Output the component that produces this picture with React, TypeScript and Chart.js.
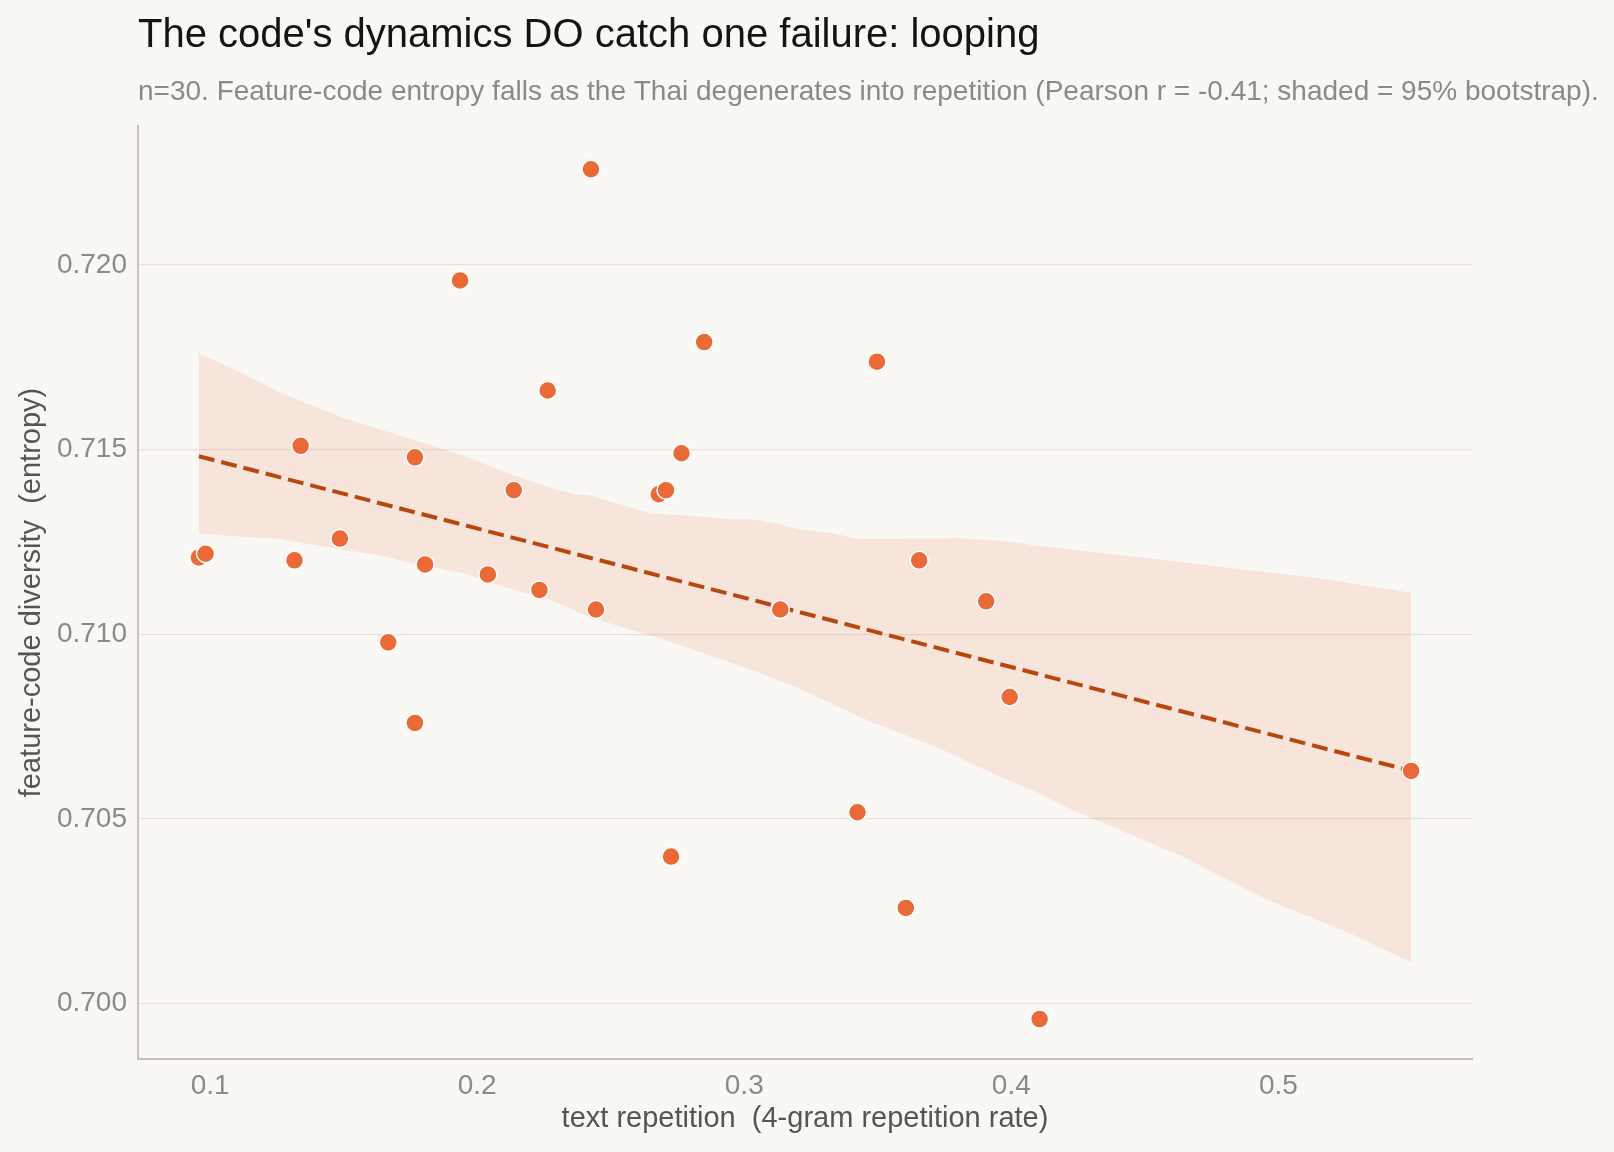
import React, { useEffect, useRef } from "react";
import { Chart, registerables } from "chart.js";

Chart.register(...registerables);

const TITLE = "The code's dynamics DO catch one failure: looping";
const SUBTITLE =
  "n=30. Feature-code entropy falls as the Thai degenerates into repetition (Pearson r = -0.41; shaded = 95% bootstrap).";
const X_TITLE = "text repetition  (4-gram repetition rate)";
const Y_TITLE = "feature-code diversity  (entropy)";

const REPETITION = [
  0.0958, 0.0983, 0.1316, 0.1339, 0.1486, 0.1667, 0.1767, 0.1767, 0.1805, 0.1936,
  0.204, 0.2137, 0.2233, 0.2264, 0.2426, 0.2445, 0.268, 0.2707, 0.2726, 0.2765,
  0.285, 0.3135, 0.3424, 0.3497, 0.3605, 0.3655, 0.3906, 0.3994, 0.4106, 0.5497,
];
const ENTROPY = [
  0.71208, 0.71218, 0.712, 0.7151, 0.71259, 0.70978, 0.7076, 0.71479, 0.71189, 0.71958,
  0.71162, 0.7139, 0.7112, 0.7166, 0.72259, 0.71067, 0.71379, 0.7139, 0.70398, 0.7149,
  0.71791, 0.71067, 0.70518, 0.71738, 0.70259, 0.712, 0.71089, 0.7083, 0.69958, 0.7063,
];

const TREND_X = [0.0958, 0.5497];
const TREND_Y = [0.71482, 0.7063];

const UPPER_X = [
  0.0958, 0.1116, 0.1259, 0.1489, 0.179, 0.1947, 0.2104, 0.2262, 0.2362, 0.242,
  0.2563, 0.2649, 0.2807, 0.2947, 0.3031, 0.3121, 0.3193, 0.3336, 0.3425, 0.3802,
  0.3945, 0.4088, 0.4625, 0.5162, 0.5497,
];
const UPPER_Y = [
  0.71761, 0.71708, 0.71656, 0.71588, 0.7152, 0.71484, 0.71439, 0.71399, 0.71379, 0.71376,
  0.71346, 0.71327, 0.7132, 0.71311, 0.71311, 0.713, 0.71286, 0.71273, 0.71258, 0.7126,
  0.71254, 0.71241, 0.71196, 0.7115, 0.71112,
];
const LOWER_X = [
  0.0958, 0.113, 0.1259, 0.1345, 0.1632, 0.179, 0.1947, 0.2119, 0.2277, 0.242,
  0.2563, 0.2706, 0.2834, 0.3049, 0.3193, 0.3461, 0.373, 0.3838, 0.3958, 0.4107,
  0.4195, 0.4644, 0.4956, 0.5268, 0.5497,
];
const LOWER_Y = [
  0.71273, 0.71263, 0.71259, 0.71247, 0.71214, 0.71187, 0.71166, 0.71124, 0.71092, 0.71047,
  0.71015, 0.70984, 0.70952, 0.70898, 0.70857, 0.70767, 0.70691, 0.70654, 0.70614, 0.70569,
  0.70535, 0.70397, 0.70282, 0.7019, 0.70112,
];

const X_TICKS = [0.1, 0.2, 0.3, 0.4, 0.5];
const X_TICK_LABELS = ["0.1", "0.2", "0.3", "0.4", "0.5"];
const Y_TICKS = [0.7, 0.705, 0.71, 0.715, 0.72];
const Y_TICK_LABELS = ["0.700", "0.705", "0.710", "0.715", "0.720"];

const X_MIN = 0.073;
const X_MAX = 0.5725;
const Y_MIN = 0.6985;
const Y_MAX = 0.72376;

const FONT = '"Liberation Sans", Arial, Helvetica, sans-serif';
const BG = "#faf8f4";

const zip = (xs: number[], ys: number[]) => xs.map((x, i) => ({ x, y: ys[i] }));

const headerPlugin = {
  id: "header",
  afterDraw(chart: any) {
    const ctx = chart.ctx;
    const left = chart.chartArea.left;
    ctx.save();
    ctx.textAlign = "left";
    ctx.textBaseline = "alphabetic";
    ctx.fillStyle = "#141414";
    ctx.font = `40px ${FONT}`;
    ctx.fillText(TITLE, left, 47);
    ctx.fillStyle = "#8a8a8a";
    ctx.font = `28px ${FONT}`;
    ctx.fillText(SUBTITLE, left, 100);
    ctx.restore();
  },
};

const bgPlugin = {
  id: "bg",
  beforeDraw(chart: any) {
    const ctx = chart.ctx;
    ctx.save();
    ctx.fillStyle = BG;
    ctx.fillRect(0, 0, chart.width, chart.height);
    ctx.restore();
  },
};

export default function App() {
  const ref = useRef<HTMLCanvasElement | null>(null);

  useEffect(() => {
    if (!ref.current) return;
    const chart = new Chart(ref.current, {
      type: "scatter",
      data: {
        datasets: [
          {
            type: "scatter",
            data: zip(REPETITION, ENTROPY),
            backgroundColor: "#ea6a37",
            borderColor: "#ffffff",
            borderWidth: 1.5,
            pointRadius: 9,
            order: 0,
          } as any,
          {
            type: "line",
            data: zip(TREND_X, TREND_Y),
            borderColor: "#b8470e",
            borderWidth: 4,
            borderDash: [16, 7],
            pointRadius: 0,
            fill: false,
            tension: 0,
            order: 1,
          } as any,
          {
            type: "line",
            data: zip(LOWER_X, LOWER_Y),
            borderWidth: 0,
            borderColor: "rgba(0,0,0,0)",
            pointRadius: 0,
            fill: false,
            tension: 0,
            order: 2,
          } as any,
          {
            type: "line",
            data: zip(UPPER_X, UPPER_Y),
            borderWidth: 0,
            borderColor: "rgba(0,0,0,0)",
            backgroundColor: "rgba(232,104,58,0.13)",
            pointRadius: 0,
            fill: "-1",
            tension: 0,
            order: 3,
          } as any,
        ],
      },
      options: {
        animation: false,
        responsive: false,
        layout: { padding: { top: 126, right: 142, bottom: 0, left: 0 } },
        plugins: {
          legend: { display: false },
          tooltip: { enabled: false },
          title: { display: false },
        },
        scales: {
          x: {
            type: "linear",
            min: X_MIN,
            max: X_MAX,
            afterBuildTicks: (scale: any) => {
              scale.ticks = X_TICKS.map((v) => ({ value: v }));
            },
            afterFit: (scale: any) => {
              scale.height = 93;
            },
            ticks: {
              callback: (_v: any, i: number) => X_TICK_LABELS[i],
              color: "#8a8a8a",
              font: { family: FONT, size: 28 },
              padding: 10,
              maxRotation: 0,
            },
            grid: { display: false, drawTicks: false },
            border: { display: true, color: "#c5c3ba", width: 2 },
            title: {
              display: true,
              text: X_TITLE,
              color: "#555555",
              font: { family: FONT, size: 29 },
              padding: { top: 0, bottom: 16 },
            },
          },
          y: {
            type: "linear",
            min: Y_MIN,
            max: Y_MAX,
            afterBuildTicks: (scale: any) => {
              scale.ticks = Y_TICKS.map((v) => ({ value: v }));
            },
            afterFit: (scale: any) => {
              scale.width = 138;
            },
            ticks: {
              callback: (_v: any, i: number) => Y_TICK_LABELS[i],
              color: "#8a8a8a",
              font: { family: FONT, size: 28 },
              padding: 11,
            },
            grid: { color: "#e6e1da", lineWidth: 1.3, drawTicks: false },
            border: { display: true, color: "#c5c3ba", width: 2 },
            title: {
              display: true,
              text: Y_TITLE,
              color: "#555555",
              font: { family: FONT, size: 29 },
              padding: { top: 15, bottom: 0 },
            },
          },
        },
      },
      plugins: [bgPlugin, headerPlugin],
    } as any);
    return () => chart.destroy();
  }, []);

  return (
    <div
      style={{
        position: "absolute",
        left: 0,
        top: 0,
        width: 1614,
        height: 1152,
        background: BG,
      }}
    >
      <canvas ref={ref} width={1614} height={1152} style={{ display: "block" }} />
    </div>
  );
}
